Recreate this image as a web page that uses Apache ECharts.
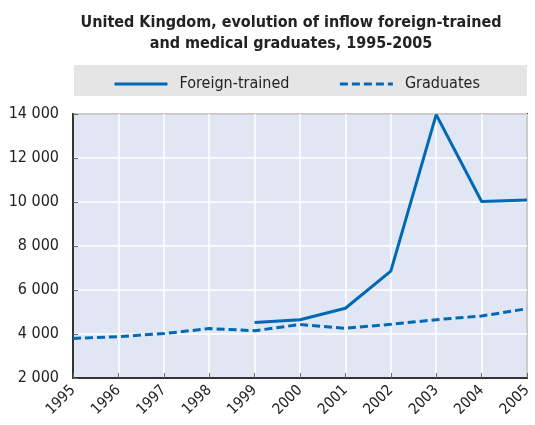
<!DOCTYPE html>
<html>
<head>
<meta charset="utf-8">
<script src="https://cdn.jsdelivr.net/npm/echarts@6/dist/echarts.min.js"></script>
<style>
  html, body { margin: 0; padding: 0; background: #fff; }
  #chart { width: 535px; height: 425px; }
</style>
</head>
<body>
<div id="chart"></div>
<script>
const years = ['1995', '1996', '1997', '1998', '1999', '2000', '2001', '2002', '2003', '2004', '2005']
const foreignTrained = [null, null, null, null, 4520, 4650, 5170, 6860, 13970, 10020, 10090]
const graduates = [3800, 3880, 4020, 4245, 4150, 4430, 4260, 4440, 4650, 4820, 5150]

const FONT = '"Liberation Sans Narrow", "DejaVu Sans Condensed", "Liberation Sans", sans-serif'
const BLUE = '#0069b4'

const chart = echarts.init(document.getElementById('chart'))

chart.setOption({
  animation: false,
  title: {
    text: 'United Kingdom, evolution of inflow foreign-trained\nand medical graduates, 1995-2005',
    left: 286,
    textAlign: 'center',
    top: 7,
    textStyle: {
      fontFamily: FONT,
      fontWeight: 'bold',
      fontSize: 16,
      lineHeight: 21,
      color: '#222',
    },
  },
  graphic: [
    {
      type: 'rect',
      shape: { x: 74, y: 65, width: 453, height: 31 },
      style: { fill: '#e5e5e5' },
      z: -1,
    },
  ],
  legend: {
    left: 108,
    top: 71,
    itemWidth: 53,
    itemHeight: 18,
    itemGap: 49,
    itemStyle: { opacity: 0 },
    lineStyle: { width: 3 },
    textStyle: {
      fontFamily: FONT,
      fontSize: 16,
      color: '#222',
      padding: [0, 0, 0, 7],
    },
    data: ['Foreign-trained', 'Graduates'],
  },
  grid: {
    left: 73,
    right: 8,
    top: 114,
    bottom: 47,
    show: true,
    backgroundColor: '#e1e6f4',
    borderColor: '#333',
    borderWidth: 2,
  },
  xAxis: {
    type: 'category',
    data: years,
    boundaryGap: false,
    axisLine: { lineStyle: { color: '#333', width: 2 } },
    axisTick: { inside: true, length: 5, lineStyle: { color: '#666' } },
    axisLabel: {
      rotate: 45,
      margin: 10,
      fontFamily: FONT,
      fontSize: 15,
      color: '#222',
    },
    splitLine: { show: true, lineStyle: { color: '#fff', width: 1.5 } },
  },
  yAxis: {
    type: 'value',
    min: 2000,
    max: 14000,
    interval: 2000,
    axisLine: { show: true, lineStyle: { color: '#333', width: 2 } },
    axisTick: { show: true, inside: true, length: 5, lineStyle: { color: '#666' } },
    axisLabel: {
      margin: 14,
      fontFamily: FONT,
      fontSize: 16,
      color: '#222',
      formatter: (v) => String(v).replace(/\B(?=(\d{3})+(?!\d))/g, ' '),
    },
    splitLine: { lineStyle: { color: '#fff', width: 1.5 } },
  },
  series: [
    {
      name: 'Foreign-trained',
      type: 'line',
      data: foreignTrained,
      symbol: 'none',
      lineStyle: { color: BLUE, width: 3 },
      itemStyle: { color: BLUE },
    },
    {
      name: 'Graduates',
      type: 'line',
      data: graduates,
      symbol: 'none',
      lineStyle: { color: BLUE, width: 3, type: [8, 4] },
      itemStyle: { color: BLUE },
    },
  ],
})
</script>
</body>
</html>
